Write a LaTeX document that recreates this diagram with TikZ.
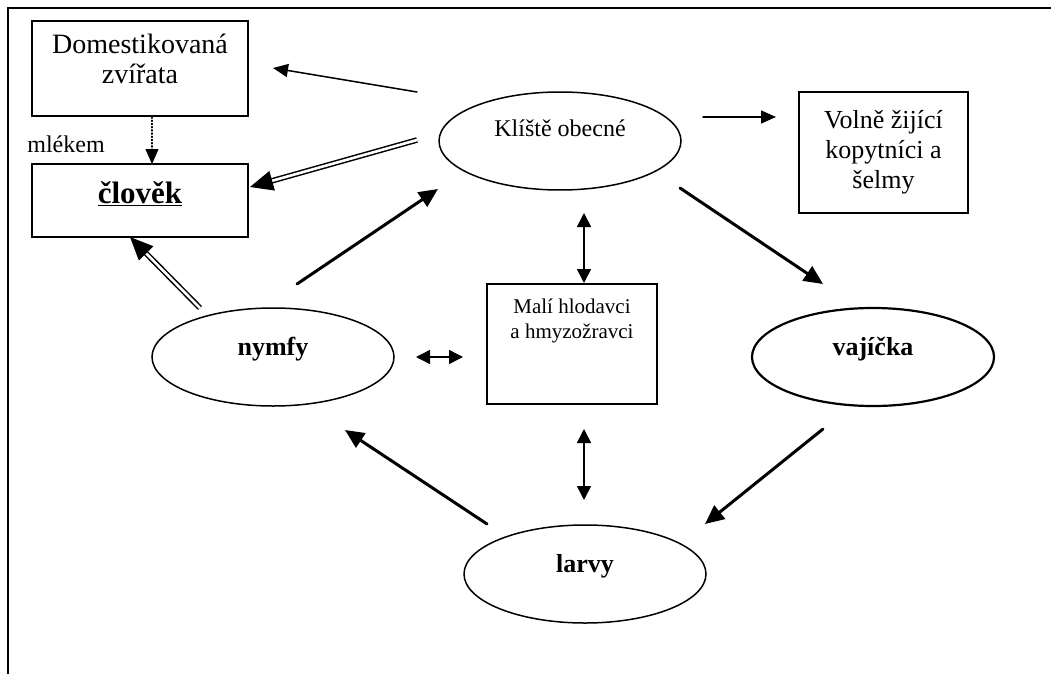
\documentclass[tikz,border=0pt]{standalone}
\usepackage{fontspec}
\setmainfont{Liberation Serif}
\usepackage{tkz-euclide}
\usetikzlibrary{arrows.meta,shapes.geometric}

\begin{document}
\begin{tikzpicture}[x=1pt,y=-1pt,
	box/.style={draw,line width=1.5pt,inner sep=0pt,align=center},
	oval/.style={draw,ellipse,line width=1.5pt,inner sep=0pt,minimum width=242pt,minimum height=98pt,
		text height=18pt,text depth=22pt,font=\fontsize{26}{30}\selectfont\bfseries},
	thin arr/.style={line width=1.5pt,-{Triangle[length=15pt,width=13pt]}},
	dot arr/.style={line width=1.2pt,dash pattern=on 1.2pt off 2pt,-{Triangle[length=15pt,width=13pt]}},
	both arr/.style={line width=1.5pt,{Triangle[length=14pt,width=14pt]}-{Triangle[length=14pt,width=14pt]}},
	thick arr/.style={line width=3pt,-{Triangle[length=19pt,width=17pt]}},
	double arr/.style={double,double distance=2.6pt,line width=1.5pt,line cap=butt,-{Triangle[length=23pt,width=20pt]}}]
	\useasboundingbox (0,0) rectangle (1051,674);
	\draw[line width=1.8pt] (1051,8) -- (8,8) -- (8,674);
	
	\node[box,minimum width=216pt,minimum height=95pt,font=\fontsize{28}{30}\selectfont] (domest) at (140,68.5) {Domestikovaná\\zvířata\\[-10pt]\mbox{}};
	\node[box,minimum width=216pt,minimum height=73pt,text height=21pt,text depth=16pt,font=\fontsize{31}{34}\selectfont\bfseries] (clovek) at (140,200.5) {\underline{člověk}};
	\node[anchor=base,font=\fontsize{24}{28}\selectfont] (mlekem) at (66,152) {mlékem};
	\node[box,minimum width=169pt,minimum height=121pt,font=\fontsize{26}{30}\selectfont] (volne) at (883.5,152.5) {Volně žijící\\kopytníci a\\šelmy};
	\node[box,minimum width=170pt,minimum height=120pt,font=\fontsize{21}{25}\selectfont] (mali) at (572,344) {Malí hlodavci\\a hmyzožravci\\ \\ };
	
	\node[oval,text depth=28pt,font=\fontsize{24}{28}\selectfont] (klistE) at (560,141) {Klíště obecné};
	\node[oval] (nymfy) at (273,357) {nymfy};
	\node[oval,line width=2.2pt] (vajicka) at (873,357) {vajíčka};
	\node[oval] (larvy) at (585,574) {larvy};
	
	\tkzDefPoint(417,92){kdA}  \tkzDefPoint(273,68){kdB}
	\tkzDefPoint(703,117){kvA} \tkzDefPoint(776,117){kvB}
	\tkzDefPoint(152,117){dcA} \tkzDefPoint(152,164){dcB}
	\tkzDefPoint(417,140){kcA} \tkzDefPoint(250,187){kcB}
	\tkzDefPoint(200,308){ncA} \tkzDefPoint(130,237){ncB}
	\tkzDefPoint(297,284){nkA} \tkzDefPoint(438,189){nkB}
	\tkzDefPoint(680,188){kjA} \tkzDefPoint(823,284){kjB}
	\tkzDefPoint(823,429){jlA} \tkzDefPoint(705,524){jlB}
	\tkzDefPoint(487,524){lnA} \tkzDefPoint(345,430){lnB}
	\tkzDefPoint(584,213){kmA} \tkzDefPoint(584,283){kmB}
	\tkzDefPoint(584,429){mlA} \tkzDefPoint(584,500){mlB}
	\tkzDefPoint(416,357){nmA} \tkzDefPoint(463,357){nmB}
	
	\tkzDrawSegments[thin arr](kdA,kdB kvA,kvB)
	\tkzDrawSegment[dot arr](dcA,dcB)
	\tkzDrawSegments[double arr](kcA,kcB ncA,ncB)
	\tkzDrawSegments[thick arr](nkA,nkB kjA,kjB jlA,jlB lnA,lnB)
	\tkzDrawSegments[both arr](kmA,kmB mlA,mlB nmA,nmB)
\end{tikzpicture}
\end{document}
